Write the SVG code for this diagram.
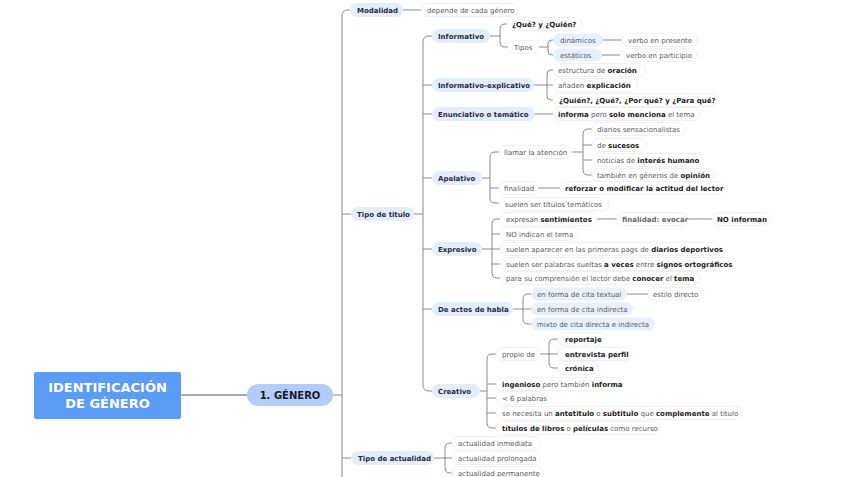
<svg xmlns="http://www.w3.org/2000/svg" width="848" height="477" viewBox="0 0 848 477">
<style>
.c{fill:none;stroke:#8a8a8a;stroke-width:1}
.k{fill:none;stroke:#555;stroke-width:1.2}
.p2{fill:#e4edfc}
.pb{fill:#e8f0fd}
.pw{fill:#fff;stroke:#ececec;stroke-width:0.8}
text{font-family:"DejaVu Sans",Verdana,sans-serif;font-size:7px;fill:#5a5a5a}
.h{font-weight:bold;fill:#2a2a3a}
.b{font-weight:bold;fill:#222}
.g{font-weight:bold;fill:#666}
</style>
<rect width="848" height="477" fill="#fff"/>
<g id="connectors">
<path class="k" d="M181,395H247"/>
<path class="c" d="M333,395H342 M342,477V16Q342,10 348,10H350 M342,214H351 M342,458H351"/>
<path class="c" d="M403,10H421"/>
<path class="c" d="M414,214H423 M423,42Q423,36 429,36H432 M423,42V385Q423,391 429,391H432 M423,85H432 M423,114H432 M423,178H432 M423,249H432 M423,309H432"/>
<path class="c" d="M490,36H500 M507,24H505Q500,24 500,29V42Q500,47 505,47H508"/>
<path class="c" d="M539,47H548 M553,40H552Q548,40 548,44V51Q548,55 552,55H553"/>
<path class="c" d="M603,40H622 M602,55H620"/>
<path class="c" d="M534,85H553 M553,70H551Q547,70 547,74V96Q547,100 551,100H553"/>
<path class="c" d="M535,114H553"/>
<path class="c" d="M482,178H490 M499,152H495Q490,152 490,157V198Q490,203 495,203H499 M490,188H499"/>
<path class="c" d="M572,152H583 M592,129H588Q583,129 583,134V170Q583,175 588,175H592 M583,145H592 M583,160H592"/>
<path class="c" d="M538,188H560"/>
<path class="c" d="M482,249H500 M500,219H497Q492,219 492,224V273Q492,278 497,278H500 M492,234H500 M492,264H500"/>
<path class="c" d="M597,219H617 M688,219H712"/>
<path class="c" d="M513,309H531 M531,294H528Q523,294 523,299V319Q523,324 528,324H531"/>
<path class="c" d="M627,294H648"/>
<path class="c" d="M480,391H487 M496,354H492Q487,354 487,359V423Q487,428 492,428H496 M487,384H496 M487,398H496 M487,413H496"/>
<path class="c" d="M540,354H558 M558,339H554Q549,339 549,344V363Q549,368 554,368H558"/>
<path class="c" d="M434,458H452 M452,443H450Q445,443 445,448V468Q445,473 450,473H452"/>
</g>
<g id="root"><rect x="34" y="372" width="147" height="47" rx="2" fill="#5b9cf6"/>
<text x="107.5" y="392" text-anchor="middle" style="font-size:13px;font-weight:bold;fill:#fff">IDENTIFICACIÓN</text>
<text x="107.5" y="408" text-anchor="middle" style="font-size:13px;font-weight:bold;fill:#fff">DE GÉNERO</text></g>
<g id="genero"><rect x="247" y="384" width="86" height="22" rx="11" fill="#b4cdf8"/>
<text x="290" y="399" text-anchor="middle" style="font-size:10px;font-weight:bold;fill:#1a1a2a">1. GÉNERO</text></g>
<g id="modalidad"><rect class="p2" x="350" y="3" width="53" height="14" rx="7"/><text class="h" x="357" y="12.5">Modalidad</text></g>
<g id="depende"><rect class="pw" x="421" y="3.5" width="97" height="13" rx="6.5"/><text x="427" y="12.5">depende de cada género</text></g>
<g id="tipo-titulo"><rect class="p2" x="351" y="207" width="63" height="14" rx="7"/><text class="h" x="357" y="216.5">Tipo de titulo</text></g>
<g id="tipo-actualidad"><rect class="p2" x="351" y="451" width="83" height="14" rx="7"/><text class="h" x="358" y="460.5">Tipo de actualidad</text></g>
<g id="informativo"><rect class="p2" x="432" y="29" width="58" height="14" rx="7"/><text class="h" x="438" y="38.5">Informativo</text></g>
<g id="que-quien"><rect class="pw" x="507" y="17.5" width="75" height="13" rx="6.5"/><text class="b" x="512" y="26.5">¿Qué? y ¿Quién?</text></g>
<g id="tipos"><rect class="pw" x="508" y="40.5" width="31" height="13" rx="6.5"/><text x="514" y="49.5">Tipos</text></g>
<g id="dinamicos"><rect class="pb" x="553" y="33.5" width="50" height="13" rx="6.5"/><text x="560" y="42.5">dinámicos</text></g>
<g id="estaticos"><rect class="pb" x="553" y="48.5" width="49" height="13" rx="6.5"/><text x="560" y="57.5">estáticos</text></g>
<g id="verbo-presente"><rect class="pw" x="622" y="33.5" width="75" height="13" rx="6.5"/><text x="628" y="42.5">verbo en presente</text></g>
<g id="verbo-participio"><rect class="pw" x="620" y="48.5" width="77" height="13" rx="6.5"/><text x="626" y="57.5">verbo en participio</text></g>
<g id="info-expl"><rect class="p2" x="432" y="78" width="102" height="14" rx="7"/><text class="h" x="438" y="87.5">Informativo-explicativo</text></g>
<g id="estructura"><rect class="pw" x="553" y="63.5" width="92" height="13" rx="6.5"/><text x="558" y="72.5">estructura de <tspan class="b">oración</tspan></text></g>
<g id="anaden"><rect class="pw" x="553" y="78.5" width="85" height="13" rx="6.5"/><text x="558" y="87.5">añaden <tspan class="b">explicación</tspan></text></g>
<g id="quien-que"><rect class="pw" x="553" y="93.5" width="165" height="13" rx="6.5"/><text class="b" x="559" y="102.5">¿Quién?, ¿Qué?, ¿Por qué? y ¿Para qué?</text></g>
<g id="enunciativo"><rect class="p2" x="432" y="107" width="103" height="14" rx="7"/><text class="h" x="438" y="116.5">Enunciativo o temático</text></g>
<g id="informa-pero"><rect class="pw" x="553" y="107.5" width="147" height="13" rx="6.5"/><text x="558" y="116.5"><tspan class="b">informa</tspan> pero <tspan class="b">solo menciona</tspan> el tema</text></g>
<g id="apelativo"><rect class="p2" x="432" y="171" width="50" height="14" rx="7"/><text class="h" x="438" y="180.5">Apelativo</text></g>
<g id="llamar"><rect class="pw" x="499" y="145.5" width="73" height="13" rx="6.5"/><text x="504" y="154.5">llamar la atención</text></g>
<g id="diarios"><rect class="pw" x="592" y="122.5" width="93" height="13" rx="6.5"/><text x="597" y="131.5">diarios sensacionalistas</text></g>
<g id="sucesos"><rect class="pw" x="592" y="138.5" width="54" height="13" rx="6.5"/><text x="597" y="147.5">de <tspan class="b">sucesos</tspan></text></g>
<g id="noticias"><rect class="pw" x="592" y="153.5" width="111" height="13" rx="6.5"/><text x="597" y="162.5">noticias de <tspan class="b">interés humano</tspan></text></g>
<g id="opinion"><rect class="pw" x="592" y="168.5" width="122" height="13" rx="6.5"/><text x="597" y="177.5">también en géneros de <tspan class="b">opinión</tspan></text></g>
<g id="finalidad"><rect class="pw" x="499" y="181.5" width="39" height="13" rx="6.5"/><text x="504" y="190.5">finalidad</text></g>
<g id="reforzar"><rect class="pw" x="560" y="181.5" width="163" height="13" rx="6.5"/><text class="b" x="565" y="190.5">reforzar o modificar la actitud del lector</text></g>
<g id="suelen-tematicos"><rect class="pw" x="499" y="197.5" width="110" height="13" rx="6.5"/><text x="505" y="206.5">suelen ser títulos temáticos</text></g>
<g id="expresivo"><rect class="p2" x="432" y="242" width="50" height="14" rx="7"/><text class="h" x="438" y="251.5">Expresivo</text></g>
<g id="expresan"><rect class="pw" x="500" y="212.5" width="97" height="13" rx="6.5"/><text x="506" y="221.5">expresan <tspan class="b">sentimientos</tspan></text></g>
<g id="evocar"><rect class="pw" x="617" y="212.5" width="71" height="13" rx="6.5"/><text class="g" x="622" y="221.5">finalidad: evocar</text></g>
<g id="no-informan"><rect class="pw" x="712" y="212.5" width="58" height="13" rx="6.5"/><text class="b" x="717" y="221.5">NO informan</text></g>
<g id="no-indican"><rect class="pw" x="500" y="227.5" width="78" height="13" rx="6.5"/><text x="506" y="236.5">NO indican el tema</text></g>
<g id="aparecer"><rect class="pw" x="500" y="242.5" width="219" height="13" rx="6.5"/><text x="506" y="251.5">suelen aparecer en las primeras pags de <tspan class="b">diarios deportivos</tspan></text></g>
<g id="palabras"><rect class="pw" x="500" y="257.5" width="232" height="13" rx="6.5"/><text x="506" y="266.5">suelen ser palabras sueltas <tspan class="b">a veces</tspan> entre <tspan class="b">signos ortográficos</tspan></text></g>
<g id="comprension"><rect class="pw" x="500" y="271.5" width="200" height="13" rx="6.5"/><text x="506" y="280.5">para su comprensión el lector debe <tspan class="b">conocer</tspan> el <tspan class="b">tema</tspan></text></g>
<g id="actos"><rect class="p2" x="432" y="302" width="81" height="14" rx="7"/><text class="h" x="438" y="311.5">De actos de habla</text></g>
<g id="cita-textual"><rect class="pb" x="531" y="287.5" width="96" height="13" rx="6.5"/><text x="537" y="296.5">en forma de cita textual</text></g>
<g id="estilo"><rect class="pw" x="648" y="287.5" width="56" height="13" rx="6.5"/><text x="653" y="296.5">estilo directo</text></g>
<g id="cita-indirecta"><rect class="pb" x="531" y="302.5" width="102" height="13" rx="6.5"/><text x="537" y="311.5">en forma de cita indirecta</text></g>
<g id="mixto"><rect class="pb" x="531" y="317.5" width="124" height="13" rx="6.5"/><text x="537" y="326.5">mixto de cita directa e indirecta</text></g>
<g id="creativo"><rect class="p2" x="432" y="384" width="48" height="14" rx="7"/><text class="h" x="438" y="393.5">Creativo</text></g>
<g id="propio"><rect class="pw" x="496" y="347.5" width="44" height="13" rx="6.5"/><text x="502" y="356.5">propio de</text></g>
<g id="reportaje"><rect class="pw" x="558" y="332.5" width="49" height="13" rx="6.5"/><text class="b" x="565" y="341.5">reportaje</text></g>
<g id="entrevista"><rect class="pw" x="558" y="347.5" width="74" height="13" rx="6.5"/><text class="b" x="565" y="356.5">entrevista perfil</text></g>
<g id="cronica"><rect class="pw" x="558" y="361.5" width="40" height="13" rx="6.5"/><text class="b" x="565" y="370.5">crónica</text></g>
<g id="ingenioso"><rect class="pw" x="496" y="377.5" width="127" height="13" rx="6.5"/><text x="502" y="386.5"><tspan class="b">ingenioso</tspan> pero también <tspan class="b">informa</tspan></text></g>
<g id="seis"><rect class="pw" x="496" y="391.5" width="47" height="13" rx="6.5"/><text x="502" y="400.5">&lt; 6 palabras</text></g>
<g id="antetitulo"><rect class="pw" x="496" y="406.5" width="246" height="13" rx="6.5"/><text x="502" y="415.5">se necesita un <tspan class="b">antetitulo</tspan> o <tspan class="b">subtitulo</tspan> que <tspan class="b">complemente</tspan> al titulo</text></g>
<g id="libros"><rect class="pw" x="496" y="421.5" width="164" height="13" rx="6.5"/><text x="502" y="430.5"><tspan class="b">títulos de libros</tspan> o <tspan class="b">películas</tspan> como recurso</text></g>
<g id="inmediata"><rect class="pw" x="452" y="436.5" width="88" height="13" rx="6.5"/><text x="458" y="445.5">actualidad inmediata</text></g>
<g id="prolongada"><rect class="pw" x="452" y="451.5" width="88" height="13" rx="6.5"/><text x="458" y="460.5">actualidad prolongada</text></g>
<g id="permanente"><rect class="pw" x="452" y="466.5" width="91" height="13" rx="6.5"/><text x="458" y="475.5">actualidad permanente</text></g>
</svg>
